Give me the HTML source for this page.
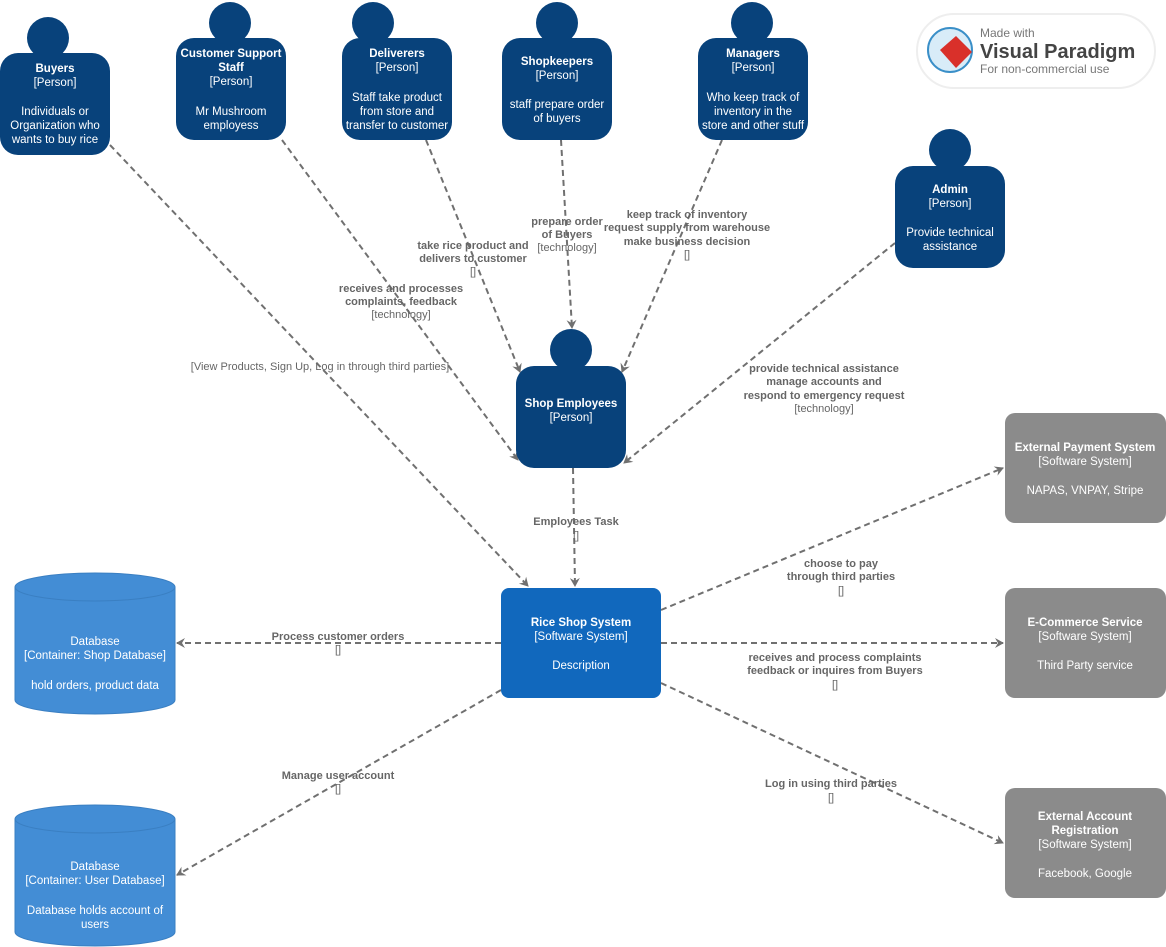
<!DOCTYPE html>
<html><head><meta charset="utf-8"><style>
html,body{margin:0;padding:0;background:#fff;}
svg{display:block;font-family:"Liberation Sans",Arial,sans-serif;}
.w{fill:#fff;font-size:11.5px;text-anchor:middle;}
.b{font-weight:bold;}
.l{fill:#666;font-size:11px;text-anchor:middle;}
.ln{stroke:#707070;stroke-width:2;stroke-dasharray:6,4;fill:none;}
</style></head><body>
<svg width="1166" height="947" viewBox="0 0 1166 947">
<defs>
<marker id="a" markerWidth="12" markerHeight="12" refX="9" refY="6" orient="auto" markerUnits="userSpaceOnUse">
<path d="M1,1 L10,6 L1,11 L4,6 Z" fill="#707070"/>
</marker>
</defs>

<line class="ln" x1="110" y1="145" x2="528" y2="586" marker-end="url(#a)"/>
<line class="ln" x1="282" y1="140" x2="518" y2="460" marker-end="url(#a)"/>
<line class="ln" x1="426" y1="140" x2="520" y2="372" marker-end="url(#a)"/>
<line class="ln" x1="561" y1="140" x2="572" y2="328" marker-end="url(#a)"/>
<line class="ln" x1="722" y1="140" x2="622" y2="372" marker-end="url(#a)"/>
<line class="ln" x1="895" y1="243" x2="624" y2="463" marker-end="url(#a)"/>
<line class="ln" x1="573" y1="468" x2="575" y2="586" marker-end="url(#a)"/>
<line class="ln" x1="501" y1="643" x2="177" y2="643" marker-end="url(#a)"/>
<line class="ln" x1="501" y1="690" x2="177" y2="875" marker-end="url(#a)"/>
<line class="ln" x1="661" y1="610" x2="1003" y2="468" marker-end="url(#a)"/>
<line class="ln" x1="661" y1="643" x2="1003" y2="643" marker-end="url(#a)"/>
<line class="ln" x1="661" y1="683" x2="1003" y2="843" marker-end="url(#a)"/>

<g fill="#08427b">
<circle cx="48" cy="38" r="21"/><rect x="0" y="53" width="110" height="102" rx="18"/>
<circle cx="230" cy="23" r="21"/><rect x="176" y="38" width="110" height="102" rx="18"/>
<circle cx="373" cy="23" r="21"/><rect x="342" y="38" width="110" height="102" rx="18"/>
<circle cx="557" cy="23" r="21"/><rect x="502" y="38" width="110" height="102" rx="18"/>
<circle cx="752" cy="23" r="21"/><rect x="698" y="38" width="110" height="102" rx="18"/>
<circle cx="950" cy="150" r="21"/><rect x="895" y="166" width="110" height="102" rx="18"/>
<circle cx="571" cy="350" r="21"/><rect x="516" y="366" width="110" height="102" rx="18"/>
</g>
<g class="w">
<text x="55" y="72" class="b">Buyers</text><text x="55" y="86">[Person]</text>
<text x="55" y="115">Individuals or</text><text x="55" y="129">Organization who</text><text x="55" y="143">wants to buy rice</text>

<text x="231" y="57" class="b">Customer Support</text><text x="231" y="71" class="b">Staff</text><text x="231" y="85">[Person]</text>
<text x="231" y="115">Mr Mushroom</text><text x="231" y="129">employess</text>

<text x="397" y="57" class="b">Deliverers</text><text x="397" y="71">[Person]</text>
<text x="397" y="101">Staff take product</text><text x="397" y="115">from store and</text><text x="397" y="129">transfer to customer</text>

<text x="557" y="65" class="b">Shopkeepers</text><text x="557" y="79">[Person]</text>
<text x="557" y="108">staff prepare order</text><text x="557" y="122">of buyers</text>

<text x="753" y="57" class="b">Managers</text><text x="753" y="71">[Person]</text>
<text x="753" y="101">Who keep track of</text><text x="753" y="115">inventory in the</text><text x="753" y="129">store and other stuff</text>

<text x="950" y="193" class="b">Admin</text><text x="950" y="207">[Person]</text>
<text x="950" y="236">Provide technical</text><text x="950" y="250">assistance</text>

<text x="571" y="407" class="b">Shop Employees</text><text x="571" y="421">[Person]</text>
</g>

<rect x="501" y="588" width="160" height="110" rx="8" fill="#1168bd"/>
<g class="w">
<text x="581" y="626" class="b">Rice Shop System</text><text x="581" y="640">[Software System]</text>
<text x="581" y="669">Description</text>
</g>

<g fill="#8b8b8b">
<rect x="1005" y="413" width="161" height="110" rx="10"/>
<rect x="1005" y="588" width="161" height="110" rx="10"/>
<rect x="1005" y="788" width="161" height="110" rx="10"/>
</g>
<g class="w">
<text x="1085" y="451" class="b">External Payment System</text><text x="1085" y="465">[Software System]</text>
<text x="1085" y="494">NAPAS, VNPAY, Stripe</text>
<text x="1085" y="626" class="b">E-Commerce Service</text><text x="1085" y="640">[Software System]</text>
<text x="1085" y="669">Third Party service</text>
<text x="1085" y="820" class="b">External Account</text><text x="1085" y="834" class="b">Registration</text><text x="1085" y="848">[Software System]</text>
<text x="1085" y="877">Facebook, Google</text>
</g>

<g fill="#438dd5" stroke="#3a7fc2" stroke-width="1">
<path d="M15,587 L15,700 A80,14 0 0 0 175,700 L175,587 Z"/>
<ellipse cx="95" cy="587" rx="80" ry="14"/>
<path d="M15,819 L15,932 A80,14 0 0 0 175,932 L175,819 Z"/>
<ellipse cx="95" cy="819" rx="80" ry="14"/>
</g>
<g class="w">
<text x="95" y="645">Database</text><text x="95" y="659">[Container: Shop Database]</text>
<text x="95" y="689">hold orders, product data</text>
<text x="95" y="870">Database</text><text x="95" y="884">[Container: User Database]</text>
<text x="95" y="914">Database holds account of</text><text x="95" y="928">users</text>
</g>

<g class="l">
<text x="320" y="370">[View Products, Sign Up, Log in through third parties]</text>
<text x="401" y="292" class="b">receives and processes</text><text x="401" y="305" class="b">complaints, feedback</text><text x="401" y="318">[technology]</text>
<text x="473" y="249" class="b">take rice product and</text><text x="473" y="262" class="b">delivers to customer</text><text x="473" y="275">[]</text>
<text x="567" y="225" class="b">prepare order</text><text x="567" y="238" class="b">of Buyers</text><text x="567" y="251">[technology]</text>
<text x="687" y="218" class="b">keep track of inventory</text><text x="687" y="231" class="b">request supply from warehouse</text><text x="687" y="245" class="b">make business decision</text><text x="687" y="258">[]</text>
<text x="824" y="372" class="b">provide technical assistance</text><text x="824" y="385" class="b">manage accounts and</text><text x="824" y="399" class="b">respond to emergency request</text><text x="824" y="412">[technology]</text>
<text x="576" y="525" class="b">Employees Task</text><text x="576" y="539">[]</text>
<text x="338" y="640" class="b">Process customer orders</text><text x="338" y="653">[]</text>
<text x="338" y="779" class="b">Manage user account</text><text x="338" y="792">[]</text>
<text x="841" y="567" class="b">choose to pay</text><text x="841" y="580" class="b">through third parties</text><text x="841" y="594">[]</text>
<text x="835" y="661" class="b">receives and process complaints</text><text x="835" y="674" class="b">feedback or inquires from Buyers</text><text x="835" y="688">[]</text>
<text x="831" y="787" class="b">Log in using third parties</text><text x="831" y="801">[]</text>
</g>

<rect x="917" y="14" width="238" height="74" rx="37" fill="#fff" stroke="#eee" stroke-width="2"/>
<circle cx="950" cy="50" r="22" fill="#d8ecf8" stroke="#3a8fc8" stroke-width="2"/>
<path d="M940,50 L956,36 L972,52 L956,68 Z" fill="#d9302a"/>
<text x="980" y="37" font-size="12" fill="#777">Made with</text>
<text x="980" y="58" font-size="20" font-weight="bold" fill="#444">Visual Paradigm</text>
<text x="980" y="73" font-size="12" fill="#777">For non-commercial use</text>
</svg>
</body></html>
